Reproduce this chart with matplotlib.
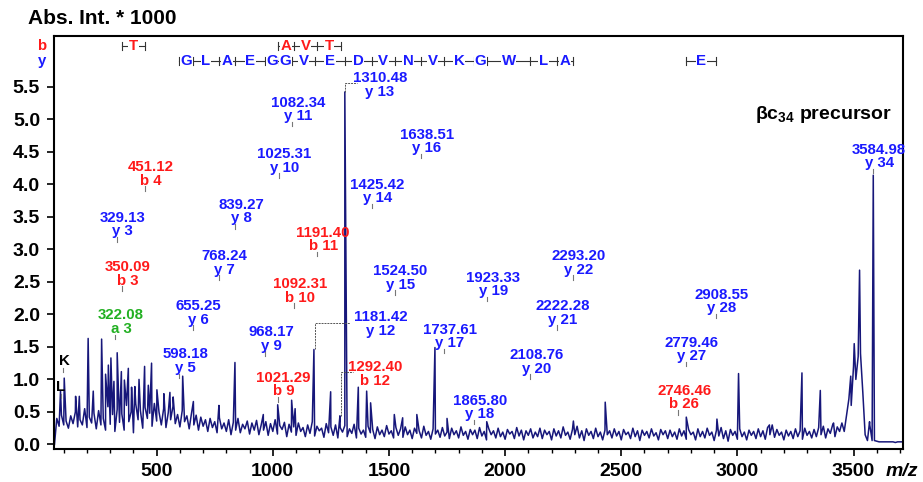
import numpy as np
import matplotlib
matplotlib.use('Agg')
import matplotlib.pyplot as plt
import matplotlib.transforms as mtrans
from matplotlib.ticker import MultipleLocator, FormatStrFormatter

plt.rcParams['font.family'] = ['Liberation Sans', 'DejaVu Sans']
plt.rcParams['font.weight'] = 'bold'
plt.rcParams['mathtext.fontset'] = 'custom'
plt.rcParams['mathtext.rm'] = 'Liberation Sans:bold'
plt.rcParams['mathtext.bf'] = 'Liberation Sans:bold'
plt.rcParams['mathtext.it'] = 'Liberation Sans:italic:bold'
plt.rcParams['mathtext.default'] = 'bf'

# --- spectrum: noisy baseline sampled every 10 m/z starting at 60 ---
noise_start = 60
noise_step = 10
noise_int = [
    # 60 - 350
    0.00, 0.40, 0.28, 0.45, 0.30, 0.36, 0.25, 0.44, 0.32, 0.50, 0.27, 0.38, 0.30, 0.55, 0.26,
    0.42, 0.33, 0.48, 0.24, 0.52, 0.30, 0.40, 0.22, 0.58, 0.31, 0.46, 0.20, 0.54, 0.34, 0.47,
    # 360 - 650
    0.22, 0.60, 0.35, 0.50, 0.18, 0.62, 0.38, 0.52, 0.25, 0.57, 0.40, 0.48, 0.28, 0.63, 0.36,
    0.50, 0.30, 0.55, 0.26, 0.49, 0.38, 0.58, 0.32, 0.46, 0.27, 0.52, 0.35, 0.44, 0.24, 0.48,
    # 660 - 950
    0.30, 0.45, 0.22, 0.42, 0.28, 0.38, 0.20, 0.40, 0.26, 0.35, 0.18, 0.41, 0.24, 0.33, 0.20,
    0.38, 0.15, 0.34, 0.22, 0.40, 0.18, 0.31, 0.24, 0.36, 0.16, 0.33, 0.22, 0.37, 0.15, 0.30,
    # 960 - 1250
    0.22, 0.35, 0.14, 0.32, 0.20, 0.38, 0.16, 0.29, 0.23, 0.34, 0.12, 0.31, 0.19, 0.27, 0.14,
    0.33, 0.20, 0.26, 0.12, 0.30, 0.17, 0.35, 0.13, 0.28, 0.21, 0.25, 0.11, 0.32, 0.18, 0.27,
    # 1260 - 1550
    0.14, 0.30, 0.10, 0.26, 0.19, 0.29, 0.12, 0.24, 0.17, 0.31, 0.10, 0.25, 0.16, 0.22, 0.11,
    0.28, 0.18, 0.23, 0.09, 0.27, 0.15, 0.22, 0.12, 0.29, 0.16, 0.21, 0.10, 0.26, 0.14, 0.24,
    # 1560 - 1850
    0.11, 0.27, 0.15, 0.22, 0.09, 0.25, 0.17, 0.21, 0.10, 0.28, 0.14, 0.20, 0.08, 0.24, 0.16,
    0.22, 0.11, 0.26, 0.13, 0.19, 0.09, 0.25, 0.15, 0.21, 0.10, 0.27, 0.14, 0.20, 0.08, 0.23,
    # 1860 - 2150
    0.15, 0.22, 0.09, 0.26, 0.13, 0.20, 0.07, 0.24, 0.15, 0.21, 0.10, 0.25, 0.12, 0.19, 0.08,
    0.23, 0.16, 0.20, 0.09, 0.26, 0.13, 0.22, 0.07, 0.21, 0.14, 0.24, 0.10, 0.19, 0.12, 0.25,
    # 2160 - 2450
    0.09, 0.22, 0.15, 0.20, 0.07, 0.24, 0.13, 0.21, 0.10, 0.27, 0.14, 0.19, 0.08, 0.23, 0.15,
    0.28, 0.10, 0.21, 0.06, 0.24, 0.14, 0.20, 0.09, 0.25, 0.12, 0.19, 0.07, 0.22, 0.15, 0.21,
    # 2460 - 2750
    0.10, 0.24, 0.13, 0.20, 0.07, 0.23, 0.15, 0.19, 0.09, 0.25, 0.12, 0.21, 0.06, 0.22, 0.14,
    0.20, 0.10, 0.24, 0.13, 0.18, 0.07, 0.23, 0.15, 0.21, 0.09, 0.22, 0.12, 0.19, 0.08, 0.24,
    # 2760 - 3050
    0.13, 0.21, 0.08, 0.23, 0.15, 0.19, 0.07, 0.24, 0.12, 0.20, 0.10, 0.25, 0.14, 0.19, 0.06,
    0.22, 0.13, 0.26, 0.09, 0.21, 0.05, 0.23, 0.14, 0.20, 0.08, 0.24, 0.12, 0.19, 0.07, 0.22,
    # 3060 - 3350
    0.14, 0.20, 0.09, 0.24, 0.12, 0.21, 0.08, 0.26, 0.15, 0.30, 0.11, 0.23, 0.14, 0.19, 0.07,
    0.22, 0.13, 0.20, 0.09, 0.24, 0.12, 0.21, 0.08, 0.25, 0.14, 0.20, 0.10, 0.23, 0.12, 0.26,
    # 3360 - 3650
    0.15, 0.28, 0.10, 0.24, 0.17, 0.30, 0.12, 0.27, 0.20, 0.33, 0.20, 0.45, 0.70, 0.60, 1.20,
    1.00, 1.35, 1.40, 0.80, 0.15, 0.06, 0.30, 0.06, 0.06, 0.05, 0.04, 0.04, 0.04, 0.04, 0.04,
    # 3660 - 3710
    0.04, 0.04, 0.03, 0.04, 0.04, 0.04,
]

# --- distinct peaks (m/z, intensity) ---
peak_mz = [86, 102, 151, 167, 205, 227, 263, 280, 292, 303, 316, 330, 348, 361, 378,
           392, 406, 424, 448, 464, 478, 501, 531, 557, 571, 612, 658, 768, 837, 959,
           1021, 1081, 1096, 1177, 1249, 1289, 1310, 1368, 1404, 1421, 1523, 1559, 1620,
           1698, 1750, 1921, 2294, 2431, 2780, 2912, 3005, 3138, 3278, 3357, 3414, 3488,
           3503, 3526, 3569, 3585]
peak_int = [0.82, 1.02, 0.74, 0.74, 1.63, 0.82, 1.62, 1.08, 1.22, 1.33, 0.97, 1.41, 1.12, 0.99, 1.17,
            0.88, 0.89, 1.00, 1.20, 0.91, 1.25, 0.84, 0.78, 0.80, 0.73, 1.05, 0.66, 0.60, 1.26, 0.46,
            0.61, 0.68, 0.55, 1.46, 0.81, 0.44, 5.42, 0.88, 0.82, 0.64, 0.46, 0.41, 0.46,
            1.49, 0.40, 0.35, 0.36, 0.65, 0.42, 0.39, 1.09, 0.30, 1.10, 0.83, 0.33, 1.05,
            1.55, 2.68, 0.35, 4.14]

# --- fragment labels with a small tick ---
ion_mz = [329.13, 350.09, 322.08, 451.12, 598.18, 655.25, 768.24, 839.27, 968.17, 1025.31,
          1082.34, 1021.29, 1092.31, 1191.40, 1425.42, 1524.50, 1638.51, 1737.61, 1865.80,
          1923.33, 2108.76, 2222.28, 2293.20, 2746.46, 2779.46, 2908.55, 3584.98]
ion_name = ['y 3', 'b 3', 'a 3', 'b 4', 'y 5', 'y 6', 'y 7', 'y 8', 'y 9', 'y 10',
            'y 11', 'b 9', 'b 10', 'b 11', 'y 14', 'y 15', 'y 16', 'y 17', 'y 18',
            'y 19', 'y 20', 'y 21', 'y 22', 'b 26', 'y 27', 'y 28', 'y 34']
ion_tick_y = [3.14, 2.38, 1.64, 3.92, 1.04, 1.78, 2.55, 3.34, 1.38, 4.12,
              4.91, 0.68, 2.12, 2.91, 3.65, 2.32, 4.42, 1.42, 0.33,
              2.22, 1.03, 1.78, 2.55, 0.48, 1.22, 1.96, 4.19]

# --- fragment labels joined to their peak by a leader line ---
lead_mz = [1310.48, 1181.42, 1292.40]
lead_name = ['y 13', 'y 12', 'b 12']
lead_peak = [5.42, 1.46, 0.44]
lead_y = [5.55, 1.86, 1.12]
lead_end = [1362, 1332, 1347]
lead_text_x = [1461, 1465, 1440]
lead_text_y = [5.53, 1.85, 1.08]

# --- sequence ladders ---
y_ladder = [598.18, 655.25, 768.24, 839.27, 968.17, 1025.31, 1082.34, 1181.42, 1310.48,
            1425.42, 1524.50, 1638.51, 1737.61, 1865.80, 1923.33, 2108.76, 2222.28, 2293.20]
y_letters = 'GLAEGGVEDVNVKGWLA'
y_ladder2 = [2779.46, 2908.55]
y_letters2 = 'E'
b_ladder = [350.09, 451.12]
b_letters = 'T'
b_ladder2 = [1021.29, 1092.31, 1191.40, 1292.40]
b_letters2 = 'AVT'

BLUE = '#1a1aff'
RED = '#ff1a1a'
GREEN = '#22b022'
NAVY = '#17177a'
TICKC = '#777777'


def ion_color(name):
    if name.startswith('b'):
        return RED
    if name.startswith('a'):
        return GREEN
    return BLUE


fig = plt.figure(figsize=(9.23, 4.82), dpi=100)
ax = fig.add_axes([54 / 923, 33 / 482, 849 / 923, 413 / 482])

noise_mz = noise_start + noise_step * np.arange(len(noise_int))
mz = np.concatenate([noise_mz, peak_mz])
inten = np.concatenate([noise_int, peak_int])
order = np.argsort(mz, kind='stable')
ax.plot(mz[order], inten[order], color=NAVY, lw=1.1)

ax.set_xlim(58, 3713)
ax.set_ylim(-0.07, 6.28)
ax.xaxis.set_minor_locator(MultipleLocator(100))
ax.set_xticks([500, 1000, 1500, 2000, 2500, 3000, 3500])
ax.set_yticks(np.arange(0, 5.51, 0.5))
ax.yaxis.set_major_formatter(FormatStrFormatter('%.1f'))
ax.tick_params(axis='both', which='major', labelsize=14, length=5, width=1.2, direction='out')
ax.tick_params(axis='x', which='major', pad=5)
ax.tick_params(axis='y', which='major', pad=5)
ax.tick_params(axis='x', which='minor', length=3, width=1.0, direction='out')
for lab in ax.get_xticklabels() + ax.get_yticklabels():
    lab.set_fontweight('bold')
for s in ax.spines.values():
    s.set_linewidth(1.5)

lab_fs = 10.8
for m, name, ty in zip(ion_mz, ion_name, ion_tick_y):
    ax.plot([m, m], [ty - 0.02, ty + 0.05], color=TICKC, lw=0.8)
    ax.text(m + 25, ty + 0.24, f'{m:.2f}\n{name}', ha='center', va='center',
            color=ion_color(name), fontsize=lab_fs, fontweight='bold', linespacing=0.95)

for m, name, pk, ly, end, tx, tyy in zip(lead_mz, lead_name, lead_peak, lead_y,
                                         lead_end, lead_text_x, lead_text_y):
    ax.plot([m, m, end], [pk, ly, ly], color='#555555', lw=0.7, ls=(0, (2, 1)))
    ax.text(tx, tyy, f'{m:.2f}\n{name}', ha='center', va='center',
            color=ion_color(name), fontsize=lab_fs, fontweight='bold', linespacing=0.95)

# immonium ions at low mass
ax.text(105, 1.28, 'K', ha='center', va='center', fontsize=lab_fs, fontweight='bold', color='black')
ax.text(87, 0.88, 'L', ha='center', va='center', fontsize=lab_fs, fontweight='bold', color='black')
ax.plot([98, 98], [1.12, 1.18], color=TICKC, lw=0.8)
ax.plot([86, 86], [0.72, 0.78], color=TICKC, lw=0.8)


def draw_ladder(masses, letters, y, color):
    ax.plot([masses[0], masses[-1]], [y, y], color='#333333', lw=0.8)
    for m in masses:
        ax.plot([m, m], [y - 0.06, y + 0.06], color='#333333', lw=0.8)
    for i, letter in enumerate(letters):
        ax.text((masses[i] + masses[i + 1]) / 2, y, letter, ha='center', va='center',
                color=color, fontsize=lab_fs, fontweight='bold',
                bbox=dict(fc='white', ec='none', pad=0.4))


row_b = 6.13
row_y = 5.90
draw_ladder(b_ladder, b_letters, row_b, RED)
draw_ladder(b_ladder2, b_letters2, row_b, RED)
draw_ladder(y_ladder, y_letters, row_y, BLUE)
draw_ladder(y_ladder2, y_letters2, row_y, BLUE)

trans = mtrans.blended_transform_factory(ax.transAxes, ax.transData)
ax.text(-0.0145, row_b, 'b', transform=trans, ha='center', va='center',
        color=RED, fontsize=lab_fs, fontweight='bold', clip_on=False)
ax.text(-0.0145, row_y, 'y', transform=trans, ha='center', va='center',
        color=BLUE, fontsize=lab_fs, fontweight='bold', clip_on=False)

ax.text(3665, 5.07, 'βc$_{34}$ precursor', ha='right', va='center',
        fontsize=14, fontweight='bold', color='black')

fig.text(28 / 923, 1 - 18 / 482, 'Abs. Int. * 1000', ha='left', va='center',
         fontsize=15, fontweight='bold')
fig.text(902 / 923, 1 - 471 / 482, 'm/z', ha='center', va='center',
         fontsize=14, fontweight='bold', style='italic')

fig.savefig('out.png', dpi=100)
